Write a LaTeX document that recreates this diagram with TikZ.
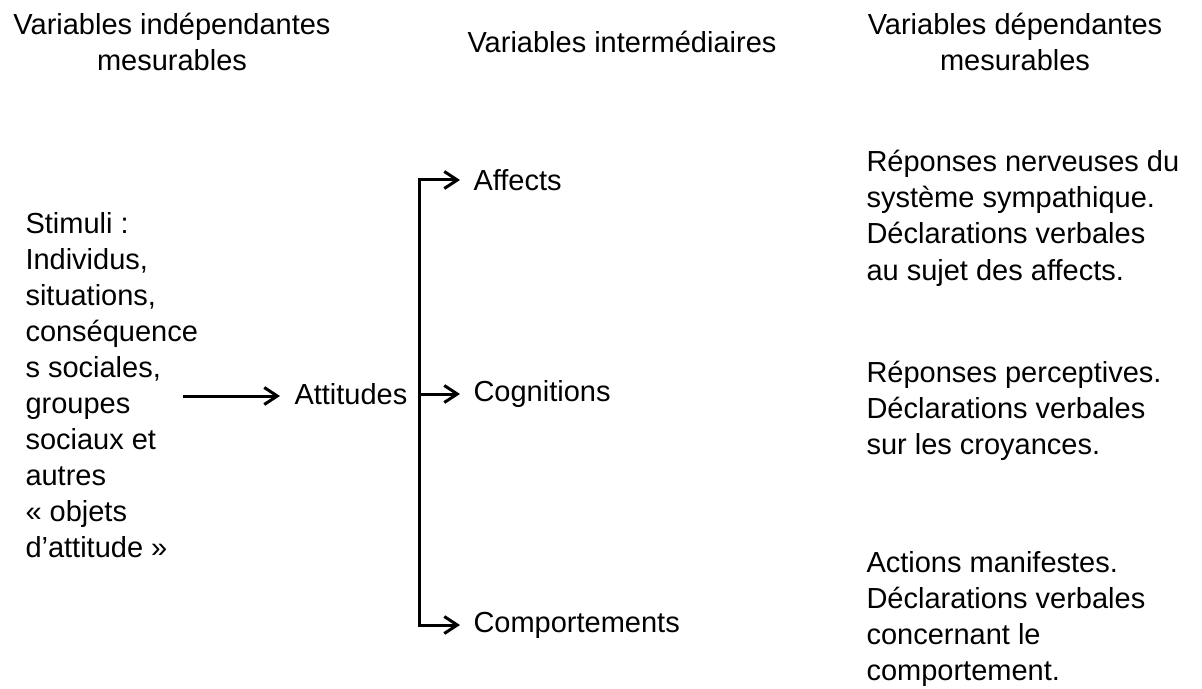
\documentclass[tikz,border=0pt]{standalone}
\usepackage{fontspec}
\setmainfont{Liberation Sans}
\usetikzlibrary{arrows.meta}

\begin{document}
\begin{tikzpicture}[x=0.5pt, y=-0.5pt, line width=1.5pt,
    every node/.style={inner sep=0pt, font=\fontsize{14.5}{18}\selectfont},
    arr/.style={-{Straight Barb[length=6.5pt,width=8.5pt]}, shorten >=6pt},
    fork/.style={{Straight Barb[length=6.5pt,width=8.5pt]}-{Straight Barb[length=6.5pt,width=8.5pt]}, shorten >=6pt, shorten <=6pt}]
  \useasboundingbox (0,0) rectangle (1202,689);
  % Headers (base = last line)
  \node[align=center, anchor=base] (hind) at (172,71) {Variables indépendantes\\mesurables};
  \node[anchor=base] (hint) at (622,53) {Variables intermédiaires};
  \node[align=center, anchor=base] (hdep) at (1015,71) {Variables dépendantes\\mesurables};
  % Stimuli
  \node[align=left, anchor=base west] (stim) at (24,557) {Stimuli :\\Individus,\\situations,\\conséquence\\s sociales,\\groupes\\sociaux et\\autres\\« objets\\d’attitude »};
  \coordinate (src) at (183,396);
  \node[anchor=west] (att) at (293,394) {Attitudes};
  \draw[arr, shorten >=6.5pt] (src) -- (src -| att.west);
  % Intermediate variables
  \node[anchor=west] (aff) at (472,180) {Affects};
  \node[anchor=west] (cog) at (472,394) {Cognitions};
  \node[anchor=west] (com) at (472,625) {Comportements};
  \coordinate (split) at (419,396);
  \draw[fork] (aff.west) -| (split |- com.west) -- (com.west);
  \draw[arr] (split |- cog.west) -- (cog.west);
  % Dependent variables
  \node[align=left, anchor=base west] (raff) at (865,280) {Réponses nerveuses du\\système sympathique.\\Déclarations verbales\\au sujet des affects.};
  \node[align=left, anchor=base west] (rcog) at (865,454) {Réponses perceptives.\\Déclarations verbales\\sur les croyances.};
  \node[align=left, anchor=base west] (rcom) at (865,680) {Actions manifestes.\\Déclarations verbales\\concernant le\\comportement.};
\end{tikzpicture}
\end{document}
